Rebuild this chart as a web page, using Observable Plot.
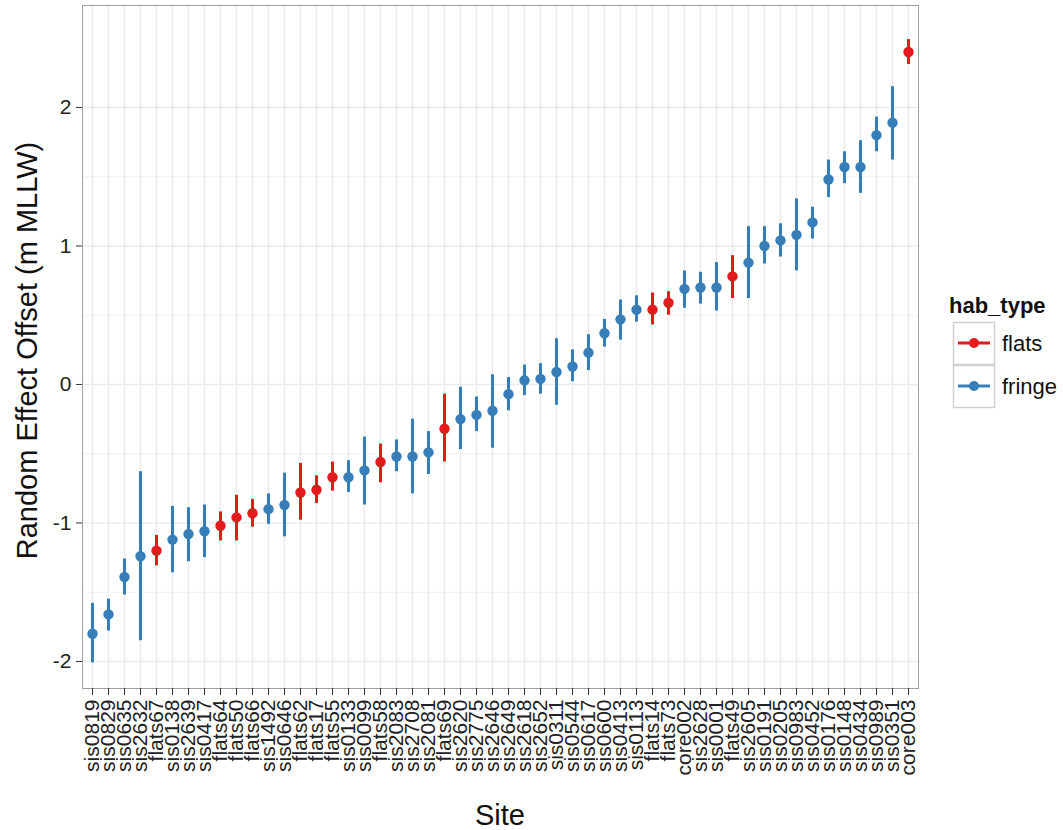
<!DOCTYPE html>
<html>
<head>
<meta charset="utf-8">
<script src="https://cdn.jsdelivr.net/npm/d3@7"></script>
<script src="https://cdn.jsdelivr.net/npm/@observablehq/plot@0.6"></script>
<style>
  html, body { margin: 0; padding: 0; background: #fff; }
  #chart { position: relative; width: 1063px; height: 830px; }
  svg { font-family: "Liberation Sans", Arial, Helvetica, sans-serif; }
</style>
</head>
<body>
<div id="chart"></div>
<script>
// Site random-effect estimates, ordered by offset
const sites = ["sis0819","sis0829","sis0635","sis2632","flats67","sis0138","sis2639","sis0417","flats64","flats50",
  "flats66","sis1492","sis0646","flats62","flats17","flats55","sis0133","sis0099","flats58","sis2083",
  "sis2708","sis2081","flats69","sis2620","sis2775","sis2646","sis2649","sis2618","sis2652","sis0311",
  "sis0544","sis0617","sis0600","sis0413","sis0113","flats14","flats73","core002","sis2628","sis0001",
  "flats49","sis2605","sis0191","sis0205","sis0983","sis0452","sis0176","sis0148","sis0434","sis0989",
  "sis0351","core003"];

const habType = ["fringe","fringe","fringe","fringe","flats","fringe","fringe","fringe","flats","flats",
  "flats","fringe","fringe","flats","flats","flats","fringe","fringe","flats","fringe",
  "fringe","fringe","flats","fringe","fringe","fringe","fringe","fringe","fringe","fringe",
  "fringe","fringe","fringe","fringe","fringe","flats","flats","fringe","fringe","fringe",
  "flats","fringe","fringe","fringe","fringe","fringe","fringe","fringe","fringe","fringe",
  "fringe","flats"];

const offset = [-1.80,-1.66,-1.39,-1.24,-1.20,-1.12,-1.08,-1.06,-1.02,-0.96,
  -0.93,-0.90,-0.87,-0.78,-0.76,-0.67,-0.67,-0.62,-0.56,-0.52,
  -0.52,-0.49,-0.32,-0.25,-0.22,-0.19,-0.07,0.03,0.04,0.09,
  0.13,0.23,0.37,0.47,0.54,0.54,0.59,0.69,0.70,0.70,
  0.78,0.88,1.00,1.04,1.08,1.17,1.48,1.57,1.57,1.80,
  1.89,2.40];

const lower = [-2.01,-1.78,-1.52,-1.85,-1.31,-1.36,-1.28,-1.25,-1.13,-1.13,
  -1.03,-1.01,-1.10,-0.98,-0.86,-0.77,-0.78,-0.87,-0.71,-0.63,
  -0.79,-0.65,-0.56,-0.47,-0.34,-0.46,-0.19,-0.08,-0.07,-0.15,
  0.02,0.10,0.27,0.32,0.45,0.43,0.50,0.55,0.58,0.53,
  0.62,0.62,0.87,0.92,0.82,1.05,1.35,1.45,1.38,1.68,
  1.62,2.31];

const upper = [-1.58,-1.55,-1.26,-0.63,-1.09,-0.88,-0.89,-0.87,-0.92,-0.80,
  -0.83,-0.79,-0.64,-0.57,-0.66,-0.56,-0.55,-0.38,-0.43,-0.40,
  -0.25,-0.34,-0.07,-0.02,-0.09,0.07,0.05,0.14,0.15,0.33,
  0.25,0.36,0.47,0.61,0.64,0.66,0.67,0.82,0.81,0.88,
  0.93,1.14,1.14,1.16,1.34,1.28,1.62,1.68,1.76,1.93,
  2.15,2.49];

const habLevels = ["flats", "fringe"];
const habColors = ["#E41A1C", "#377EB8"];
const yMajor = [-2, -1, 0, 1, 2];
const yMinor = [-1.5, -0.5, 0.5, 1.5];

const rows = sites.map((s, i) => ({site: s, hab: habType[i], est: offset[i], lo: lower[i], hi: upper[i]}));

const W = 1063, H = 830;
const mL = 82, mR = 145, mT = 5, mB = 142;
const tickFont = 21;
const titleFont = 29;

const chart = Plot.plot({
  width: W,
  height: H,
  marginLeft: mL,
  marginRight: mR,
  marginTop: mT,
  marginBottom: mB,
  style: {fontFamily: '"Liberation Sans", Arial, Helvetica, sans-serif', background: "#fff"},
  x: {type: "point", domain: sites, padding: 0.6},
  y: {domain: [-2.195, 2.736]},
  color: {domain: habLevels, range: habColors},
  marks: [
    Plot.ruleY(yMinor, {stroke: "#f3f3f3", strokeWidth: 1}),
    Plot.ruleY(yMajor, {stroke: "#ebebeb", strokeWidth: 1.6}),
    Plot.ruleX(sites, {stroke: "#ebebeb", strokeWidth: 1.6}),
    Plot.ruleX(rows, {x: "site", y1: "lo", y2: "hi", stroke: "hab", strokeWidth: 3}),
    Plot.dot(rows, {x: "site", y: "est", fill: "hab", r: 5.2}),
    Plot.frame({stroke: "#a0a0a0", strokeWidth: 1}),
    Plot.axisX({
      tickRotate: -90, tickSize: 7, tickPadding: 4,
      fontSize: tickFont, stroke: "#333", color: "#222", label: null
    }),
    Plot.axisY({
      ticks: yMajor, tickFormat: d => String(d), tickSize: 6, tickPadding: 5,
      fontSize: tickFont, stroke: "#333", color: "#222", label: null
    })
  ]
});

document.getElementById("chart").appendChild(chart);

const svg = d3.select(chart);

// Axis titles
svg.append("text")
  .attr("x", mL + (W - mL - mR) / 2)
  .attr("y", 825)
  .attr("text-anchor", "middle")
  .attr("font-size", titleFont)
  .attr("fill", "#111")
  .text("Site");

svg.append("text")
  .attr("transform", `translate(37,${mT + (H - mT - mB) / 2 + 4}) rotate(-90)`)
  .attr("text-anchor", "middle")
  .attr("font-size", titleFont)
  .attr("fill", "#111")
  .text("Random Effect Offset (m MLLW)");

// Legend for hab_type
const lg = svg.append("g")
  .attr("transform", "translate(953,0)")
  .attr("text-anchor", "start");
lg.append("text")
  .attr("x", -4).attr("y", 313)
  .attr("text-anchor", "start")
  .attr("font-size", 22).attr("font-weight", "bold").attr("fill", "#111")
  .text("hab_type");
habLevels.forEach((h, i) => {
  const top = 322 + i * 43;
  lg.append("rect")
    .attr("x", 0.5).attr("y", top + 0.5).attr("width", 41).attr("height", 42)
    .attr("fill", "#fff").attr("stroke", "#d0d0d0").attr("stroke-width", 1.5);
  lg.append("line")
    .attr("x1", 5).attr("x2", 37).attr("y1", top + 21).attr("y2", top + 21)
    .attr("stroke", habColors[i]).attr("stroke-width", 3);
  lg.append("circle")
    .attr("cx", 21).attr("cy", top + 21).attr("r", 5)
    .attr("fill", habColors[i]);
  lg.append("text")
    .attr("x", 49).attr("y", top + 29)
    .attr("text-anchor", "start")
    .attr("font-size", 22).attr("fill", "#111")
    .text(h);
});
</script>
</body>
</html>
